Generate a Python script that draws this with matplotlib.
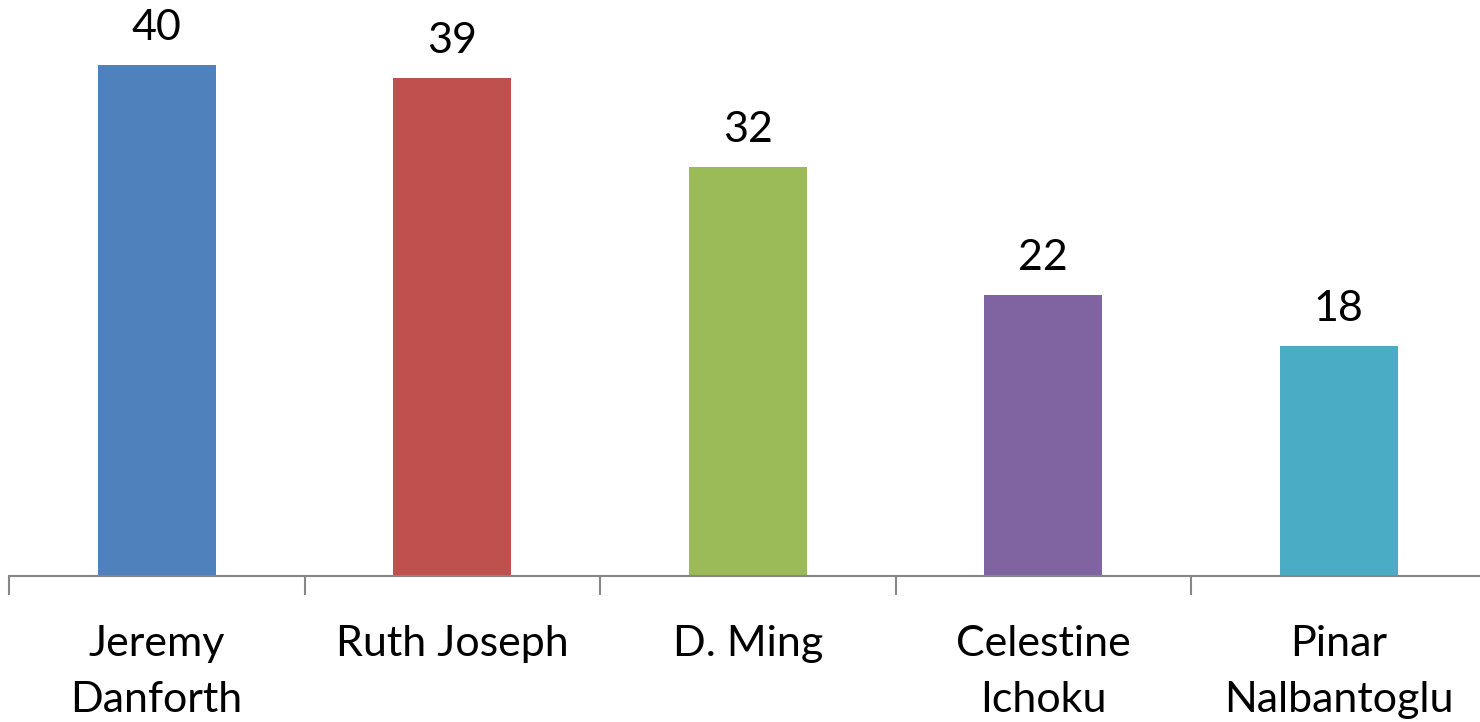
import matplotlib
matplotlib.use("Agg")
import matplotlib.pyplot as plt
import numpy as np

# ===================== DATA =====================
names  = ["Jeremy\nDanforth", "Ruth Joseph", "D. Ming", "Celestine\nIchoku", "Pinar\nNalbantoglu"]
values = [40, 39, 32, 22, 18]
colors = ["#4F81BD", "#C0504D", "#9BBB59", "#8064A2", "#4BACC6"]

plt.rcParams["font.family"] = ["Lato", "DejaVu Sans"]

W, H = 1480, 722
fig = plt.figure(figsize=(W / 100, H / 100), dpi=100)
# axis line at y=576 px, category slots ~295.5 px wide starting at x=9
x0, slot, base = 9, 295.5, 576
ax = fig.add_axes([x0 / W, (H - base) / H, 5 * slot / W, base / H])

x = np.arange(len(values))
ax.bar(x, values, width=0.4, color=colors)
ax.set_xlim(-0.5, len(values) - 0.5)
ax.set_ylim(0, base / 12.775)

for xi, v in zip(x, values):
    ax.text(xi, v + 1.4, str(v), ha="center", va="bottom", fontsize=31)

for s in ["top", "right", "left"]:
    ax.spines[s].set_visible(False)
ax.spines["bottom"].set_color("#868686")
ax.spines["bottom"].set_linewidth(1.5)
ax.set_yticks([])

ax.set_xticks(x)
ax.set_xticklabels(names, fontsize=31, linespacing=1.6)
ax.tick_params(axis="x", which="major", length=0, pad=35)
ax.set_xticks(np.arange(-0.5, len(values)), minor=True)
ax.tick_params(axis="x", which="minor", length=14, width=1.5, color="#868686", direction="out")

fig.savefig("out.png", dpi=100)
